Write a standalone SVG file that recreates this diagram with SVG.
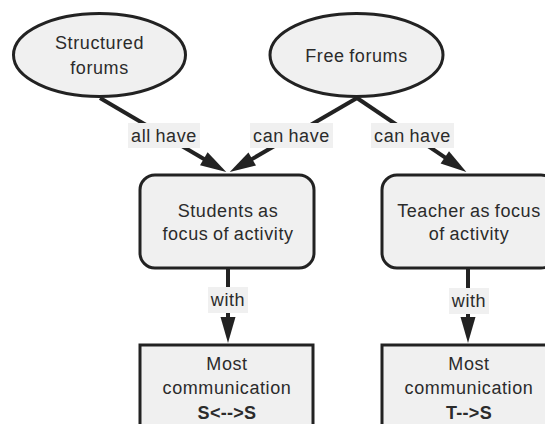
<svg xmlns="http://www.w3.org/2000/svg" width="545" height="424" viewBox="0 0 545 424">
<defs>
<style>
.node{fill:#f0f0f0;stroke:#222;stroke-width:3}
.t{font-family:"Liberation Sans",Arial,sans-serif;font-size:18px;fill:#2b2b2b;text-anchor:middle;letter-spacing:0.6px;word-spacing:-1px}
.b{font-weight:bold;letter-spacing:0.3px}
.edge{stroke:#222;stroke-width:4;fill:none}
.lbg{fill:#f0f0f0}
</style>
<marker id="arr" viewBox="0 0 26 15" refX="14" refY="7.5" markerWidth="26" markerHeight="15" markerUnits="userSpaceOnUse" orient="auto" overflow="visible">
<path d="M0,0 L26,7.5 L0,15 z" fill="#222"/>
</marker>
</defs>
<rect width="545" height="424" fill="#fff"/>
<g id="connectors">
<line class="edge" x1="100" y1="98" x2="215.9" y2="165.9" marker-end="url(#arr)"/>
<line class="edge" x1="357" y1="98" x2="240.1" y2="166" marker-end="url(#arr)"/>
<line class="edge" x1="357" y1="98" x2="456.4" y2="165.2" marker-end="url(#arr)"/>
<line class="edge" x1="228" y1="268" x2="228" y2="331" marker-end="url(#arr)"/>
<line class="edge" x1="468" y1="268" x2="468" y2="331" marker-end="url(#arr)"/>
<g id="labels">
<rect class="lbg" x="128" y="123" width="72" height="25"/>
<text class="t" x="164" y="142">all have</text>
<rect class="lbg" x="250" y="123" width="83" height="25"/>
<text class="t" x="291.5" y="142">can have</text>
<rect class="lbg" x="371" y="123" width="83" height="25"/>
<text class="t" x="412.5" y="142">can have</text>
<rect class="lbg" x="208" y="287" width="40" height="26"/>
<text class="t" x="228" y="306">with</text>
<rect class="lbg" x="449" y="288" width="40" height="26"/>
<text class="t" x="469" y="307">with</text>
</g>
</g>
<g id="structured">
<ellipse class="node" cx="99.5" cy="55" rx="86" ry="41.5"/>
<text class="t" x="99.5" y="49">Structured</text>
<text class="t" x="99.5" y="74">forums</text>
</g>
<g id="free">
<ellipse class="node" cx="356.5" cy="55" rx="86.5" ry="41.5"/>
<text class="t" x="356.5" y="62">Free forums</text>
</g>
<g id="students">
<rect class="node" x="140" y="175" width="174" height="93" rx="15"/>
<text class="t" x="228" y="217">Students as</text>
<text class="t" x="228" y="240">focus of activity</text>
</g>
<g id="teacher">
<rect class="node" x="382" y="175" width="174" height="93" rx="15"/>
<text class="t" x="469" y="217">Teacher as focus</text>
<text class="t" x="469" y="240">of activity</text>
</g>
<g id="comm-ss">
<rect class="node" x="140" y="345" width="173" height="100"/>
<text class="t" x="227" y="370">Most</text>
<text class="t" x="227" y="394">communication</text>
<text class="t b" x="227" y="419">S&lt;--&gt;S</text>
</g>
<g id="comm-ts">
<rect class="node" x="382" y="345" width="174" height="100"/>
<text class="t" x="469" y="370">Most</text>
<text class="t" x="469" y="394">communication</text>
<text class="t b" x="469" y="419">T--&gt;S</text>
</g>
</svg>
